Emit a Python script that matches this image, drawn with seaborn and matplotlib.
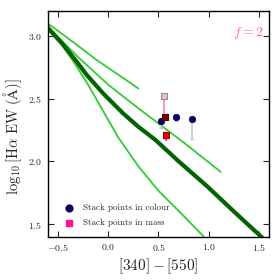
import numpy as np
import pandas as pd
import matplotlib
matplotlib.use("Agg")
import matplotlib.pyplot as plt
import seaborn as sns

# ---- data ----
thick_x = [-0.62, -0.45, -0.31, -0.216, -0.05, 0.15, 0.30, 0.47, 0.70, 0.985, 1.25, 1.55]
thick_y = [3.08, 2.93, 2.79, 2.69, 2.54, 2.38, 2.275, 2.17, 2.00, 1.80, 1.60, 1.378]

line1_x = [-0.62, -0.35, -0.12, 0.10, 0.30]
line1_y = [3.11, 2.95, 2.81, 2.69, 2.58]

line2_x = [-0.62, -0.30, 0.00, 0.32, 0.75, 1.12]
line2_y = [3.09, 2.83, 2.61, 2.41, 2.15, 1.915]

line3_x = [-0.62, -0.50, -0.35, -0.20, -0.05, 0.10, 0.30, 0.50, 0.75, 0.95]
line3_y = [3.10, 2.97, 2.80, 2.61, 2.40, 2.19, 1.96, 1.765, 1.565, 1.40]

colour_x = [0.527, 0.67, 0.83]
colour_y = [2.323, 2.35, 2.334]
colour_err = [0.06, 0.03, 0.16]

mass_x = [0.55, 0.56, 0.57]
mass_y = [2.52, 2.35, 2.21]
mass_err = [0.17, 0.0, 0.05]
mass_colors = ["#f2b8c6", "#800000", "#ee0000"]
mass_edges = ["#909090", "#500000", "#a00000"]
mass_errcolors = ["#f4a0cc", "#800000", "#ff33cc"]

legend_labels = ["Stack points in colour", "Stack points in mass"]

# ---- style ----
sns.set_style("ticks")
plt.rcParams["font.family"] = ["cmr10", "DejaVu Serif"]
plt.rcParams["mathtext.fontset"] = "cm"
plt.rcParams["axes.formatter.use_mathtext"] = True
plt.rcParams["axes.unicode_minus"] = True

fig = plt.figure(figsize=(2.8, 2.8), dpi=100)
ax = fig.add_axes([0.171, 0.155, 0.79, 0.807])

light = "#33cc33"
for xs, ys in [(line1_x, line1_y), (line2_x, line2_y), (line3_x, line3_y)]:
    sns.lineplot(x=xs, y=ys, ax=ax, color=light, lw=1.3, sort=False, estimator=None)
sns.lineplot(x=thick_x, y=thick_y, ax=ax, color="#006400", lw=3.0, sort=False, estimator=None)

# error bars (lower only)
for x, y, e in zip(colour_x, colour_y, colour_err):
    ax.errorbar([x], [y], yerr=[[e], [0]], fmt="none", ecolor="#c8c8e0", elinewidth=1.2,
                capsize=1.2, zorder=3)
for x, y, e, c in zip(mass_x, mass_y, mass_err, mass_errcolors):
    if e > 0:
        ax.errorbar([x], [y], yerr=[[e], [0]], fmt="none", ecolor=c, elinewidth=1.5,
                    capsize=0, zorder=3)

sns.scatterplot(x=colour_x, y=colour_y, ax=ax, marker="o", s=22, color="#000066",
                edgecolor="#000044", linewidth=0.5, zorder=5)
for x, y, c, ec in zip(mass_x, mass_y, mass_colors, mass_edges):
    sns.scatterplot(x=[x], y=[y], ax=ax, marker="s", s=20, color=c, edgecolor=ec,
                    linewidth=0.8, zorder=5)

# legend handles
h1 = ax.scatter([], [], marker="o", s=24, color="#000066", label=legend_labels[0])
h2 = ax.scatter([], [], marker="s", s=18, color="#ff1493", label=legend_labels[1])
ax.legend(handles=[h1, h2], loc="lower left", frameon=False, fontsize=6.5,
          handletextpad=0.6, borderaxespad=0.4, labelspacing=0.7,
          bbox_to_anchor=(0.02, 0.01))

ax.text(0.975, 0.9, r"$f=2$", transform=ax.transAxes, ha="right", va="center",
        color="#ff69b4", fontsize=10)

ax.set_xlim(-0.6, 1.6)
ax.set_ylim(1.4, 3.2)
ax.set_xticks([-0.5, 0.0, 0.5, 1.0, 1.5])
ax.set_yticks([1.5, 2.0, 2.5, 3.0])
ax.tick_params(direction="in", top=True, right=True, labelsize=7, length=4, width=0.8,
               pad=4)
for s in ax.spines.values():
    s.set_linewidth(1.0)
    s.set_color("black")

ax.set_xlabel(r"$[340]-[550]$", fontsize=11, labelpad=2)
ax.set_ylabel(r"$\log_{10}[\mathrm{H}\alpha\ \mathrm{EW}\ (\mathrm{\AA})]$", fontsize=10.5)
ax.yaxis.set_label_coords(-0.11, 0.44)

fig.savefig("out.png", dpi=100)
